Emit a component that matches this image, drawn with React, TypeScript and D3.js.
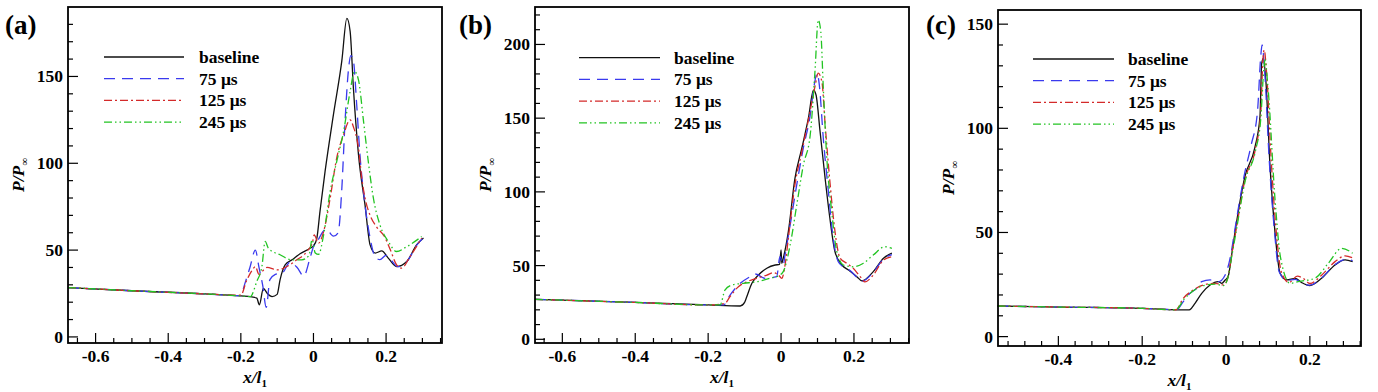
import * as React from "react";
import * as d3 from "d3";

type Pt = [number, number];

// ---- data (x/l1, P/Pinf) ----
const SERIES_NAMES = ["baseline", "75 μs", "125 μs", "245 μs"];
const PANEL_LABELS = ["(a)", "(b)", "(c)"];

const A_BASELINE: Pt[] = [[-0.676,28.4],[-0.5,26.6],[-0.3,24.8],[-0.2,23.6],[-0.17,23],[-0.156,22.3],[-0.149,18.5],[-0.138,28],[-0.127,25],[-0.114,23.2],[-0.1,24.5],[-0.092,32.9],[-0.078,41.5],[-0.059,44.4],[-0.037,47.9],[-0.009,51.1],[0,52.5],[0.009,56.5],[0.018,72.3],[0.032,95.3],[0.055,128],[0.078,158.8],[0.092,183.4],[0.101,176],[0.11,143.4],[0.124,105],[0.142,76],[0.156,53],[0.17,48.3],[0.188,49.5],[0.206,45.4],[0.229,40.5],[0.257,43.4],[0.284,53],[0.303,56.9]];
const A_75: Pt[] = [[-0.676,28.4],[-0.5,26.6],[-0.3,24.8],[-0.2,23.8],[-0.19,30],[-0.175,40],[-0.16,50],[-0.15,40],[-0.14,30],[-0.13,17],[-0.12,33],[-0.105,36],[-0.085,37],[-0.065,43],[-0.045,40],[-0.027,35],[-0.01,45],[0,52],[0.01,55],[0.035,62],[0.055,58],[0.068,60],[0.078,85],[0.087,124],[0.096,153],[0.103,162],[0.11,159],[0.119,134],[0.128,105],[0.142,76],[0.156,57],[0.17,46],[0.183,44.5],[0.2,47],[0.215,44],[0.232,40.5],[0.258,43.5],[0.285,53],[0.3,56.5]];
const A_125: Pt[] = [[-0.676,28.4],[-0.5,26.6],[-0.3,24.8],[-0.2,24],[-0.185,32],[-0.17,38],[-0.16,40.5],[-0.15,36],[-0.14,38],[-0.128,40],[-0.1,38.6],[-0.082,39.6],[-0.046,44.4],[-0.018,49.2],[-0.002,55],[0.002,58.8],[0.014,54],[0.028,60.7],[0.046,80],[0.064,103],[0.083,116.5],[0.101,125],[0.11,121],[0.124,108.8],[0.133,91.5],[0.142,80],[0.156,70],[0.175,63],[0.195,58],[0.212,50],[0.229,41.5],[0.243,39.6],[0.266,46.3],[0.298,56.9]];
const A_245: Pt[] = [[-0.676,28.4],[-0.5,26.6],[-0.3,24.8],[-0.2,23.6],[-0.174,23.2],[-0.156,32],[-0.142,40.5],[-0.133,55],[-0.124,51],[-0.092,47.3],[-0.059,44.4],[-0.032,44.4],[-0.012,47],[-0.004,56],[0.005,48.3],[0.014,47.5],[0.028,58.8],[0.046,83.8],[0.064,101],[0.083,118.4],[0.101,141.5],[0.113,153],[0.124,148],[0.138,124],[0.151,101],[0.165,80],[0.183,64.6],[0.206,55],[0.229,49.2],[0.257,52],[0.298,57.8]];

const B_BASELINE: Pt[] = [[-0.675,27.1],[-0.4,25],[-0.2,23.3],[-0.112,22.6],[-0.1,25],[-0.094,28.9],[-0.08,38],[-0.062,43.6],[-0.039,48.2],[-0.016,50.4],[-0.004,50.8],[0,60.6],[0.002,51.6],[0.006,55],[0.02,73],[0.038,109],[0.057,129.6],[0.075,150],[0.089,169],[0.096,165.7],[0.107,141],[0.121,109],[0.134,82],[0.148,59.4],[0.167,50.4],[0.185,47],[0.208,42.5],[0.222,39.6],[0.253,45.9],[0.281,55],[0.304,58.4]];
const B_75: Pt[] = [[-0.675,27.1],[-0.4,25],[-0.2,23.3],[-0.158,23.3],[-0.14,30],[-0.112,38],[-0.085,42.5],[-0.071,44.3],[-0.044,41.4],[-0.012,42.5],[-0.003,56],[0.006,50.4],[0.011,57.2],[0.025,77.5],[0.043,104.7],[0.061,129.6],[0.08,152],[0.091,172.5],[0.099,180.5],[0.105,172.5],[0.116,136],[0.13,100],[0.143,68.5],[0.157,52.6],[0.171,49.2],[0.19,46.5],[0.208,42],[0.222,39.4],[0.253,45.5],[0.281,54.5],[0.304,57.5]];
const B_125: Pt[] = [[-0.675,27.1],[-0.4,25],[-0.2,23.3],[-0.154,24.4],[-0.14,29],[-0.117,35.7],[-0.094,39],[-0.067,41.4],[-0.039,43.6],[-0.021,45.2],[-0.007,43.6],[0.002,41.4],[0.011,50.4],[0.02,68.5],[0.038,104.7],[0.057,127.3],[0.075,148.8],[0.093,171.4],[0.102,180.5],[0.112,174.8],[0.121,145.4],[0.134,107],[0.148,73],[0.162,55],[0.18,51.6],[0.198,48.2],[0.217,42.5],[0.23,39],[0.253,43.6],[0.281,53.8],[0.304,56]];
const B_245: Pt[] = [[-0.675,27.1],[-0.4,25],[-0.2,23.3],[-0.167,23.3],[-0.154,33.4],[-0.135,36.8],[-0.103,38],[-0.067,39],[-0.03,41.4],[-0.003,43.6],[0.006,45.9],[0.025,64],[0.043,91],[0.061,118],[0.08,138.6],[0.093,181.5],[0.102,216.6],[0.109,208.7],[0.116,170],[0.125,125],[0.139,86.6],[0.153,59.4],[0.171,50.4],[0.198,49.2],[0.226,51.6],[0.253,57.2],[0.285,62.8],[0.304,61.7]];

const C_BASELINE: Pt[] = [[-0.545,14.7],[-0.4,14.2],[-0.2,13.6],[-0.09,12.8],[-0.086,13],[-0.074,16],[-0.058,20.8],[-0.038,24.8],[-0.018,26.4],[-0.01,25.6],[-0.002,27.2],[0.005,28.8],[0.014,40],[0.021,49.6],[0.045,76.8],[0.069,91],[0.081,105.6],[0.085,131],[0.089,133.6],[0.095,123],[0.105,81.6],[0.117,49.6],[0.129,30.4],[0.145,27.2],[0.165,28],[0.18,26],[0.2,24.5],[0.228,28],[0.26,34.4],[0.284,36.8],[0.302,36]];
const C_75: Pt[] = [[-0.545,14.7],[-0.4,14.2],[-0.2,13.6],[-0.118,12.9],[-0.102,16.8],[-0.086,20.8],[-0.07,23.2],[-0.058,26.4],[-0.038,27.2],[-0.018,26.4],[-0.002,29.6],[0.012,40],[0.02,50],[0.044,78],[0.06,92],[0.075,108],[0.083,135],[0.086,140],[0.092,128],[0.103,85],[0.115,52],[0.127,31],[0.145,27],[0.165,27.5],[0.18,25.8],[0.2,24.7],[0.228,28.2],[0.26,34.5],[0.284,37],[0.302,36.5]];
const C_125: Pt[] = [[-0.545,14.7],[-0.4,14.2],[-0.2,13.6],[-0.12,12.9],[-0.102,18.4],[-0.078,22.4],[-0.054,24.8],[-0.026,25.6],[-0.006,24.8],[0.004,28],[0.014,40],[0.022,49],[0.046,76],[0.07,90],[0.083,108],[0.088,133],[0.091,137.6],[0.097,126],[0.108,84],[0.12,50],[0.132,31],[0.15,26],[0.17,29],[0.184,28],[0.2,25.5],[0.228,29.5],[0.26,36],[0.284,38.8],[0.302,37.8]];
const C_245: Pt[] = [[-0.545,14.7],[-0.4,14.2],[-0.2,13.6],[-0.12,12.9],[-0.1,18],[-0.078,22],[-0.054,24.5],[-0.026,25.2],[-0.006,24.5],[0.004,28],[0.014,39],[0.022,48],[0.046,75],[0.07,89],[0.083,105],[0.09,128],[0.093,132.8],[0.1,120],[0.117,65.6],[0.13,38],[0.153,25.6],[0.175,26.5],[0.212,28],[0.244,35.2],[0.276,42.4],[0.302,40]];

const A_X_TICKS = [-0.6, -0.4, -0.2, 0, 0.2];
const B_X_TICKS = [-0.6, -0.4, -0.2, 0, 0.2];
const C_X_TICKS = [-0.4, -0.2, 0, 0.2];
const A_Y_TICKS = [0, 50, 100, 150];
const B_Y_TICKS = [0, 50, 100, 150, 200];
const C_Y_TICKS = [0, 50, 100, 150];

// ---- layout / styles ----
const STYLES = [
  { color: "#111111", dash: "" },
  { color: "#3a3aee", dash: "11 7" },
  { color: "#d42a2a", dash: "8 3 2 3" },
  { color: "#22c422", dash: "8 3 1.5 3 1.5 3" },
];

const PANELS = [
  { left: 68, right: 442, top: 7, bottom: 343, xd: [-0.676, 0.354], yd: [-3.5, 190], xMinor: 0.05, yMax: 180,
    labelX: 5, yTitleX: 18, legX1: 104, legX2: 184, legText: 199, legY: 57,
    series: [A_BASELINE, A_75, A_125, A_245], xTicks: A_X_TICKS, yTicks: A_Y_TICKS },
  { left: 535, right: 909, top: 7, bottom: 343, xd: [-0.675, 0.351], yd: [-2.5, 225.4], xMinor: 0.05, yMax: 220,
    labelX: 459, yTitleX: 485, legX1: 579, legX2: 660, legText: 674, legY: 57.7,
    series: [B_BASELINE, B_75, B_125, B_245], xTicks: B_X_TICKS, yTicks: B_Y_TICKS },
  { left: 998, right: 1361, top: 10, bottom: 346, xd: [-0.544, 0.322], yd: [-4.5, 156.8], xMinor: 0.04, yMax: 150,
    labelX: 926, yTitleX: 948, legX1: 1033, legX2: 1114, legText: 1128, legY: 59,
    series: [C_BASELINE, C_75, C_125, C_245], xTicks: C_X_TICKS, yTicks: C_Y_TICKS },
];

const FONT = "Liberation Serif";
const txt: React.CSSProperties = { fontFamily: FONT, fontWeight: 700 };

function Panel({ p, label }: { p: (typeof PANELS)[number]; label: string }) {
  const x = d3.scaleLinear().domain(p.xd).range([p.left, p.right]);
  const y = d3.scaleLinear().domain(p.yd).range([p.bottom, p.top]);
  const line = d3
    .line<Pt>()
    .x((d) => x(d[0]))
    .y((d) => y(d[1]))
    .curve(d3.curveMonotoneX);

  const n0 = Math.ceil(p.xd[0] / p.xMinor - 1e-6);
  const n1 = Math.floor(p.xd[1] / p.xMinor + 1e-6);
  const xMinor = d3.range(n0, n1 + 1).map((i) => +(i * p.xMinor).toFixed(3));
  const yMinor = d3.range(0, p.yMax + 1, 10);
  const cx = (p.left + p.right) / 2;
  const cy = (p.top + p.bottom) / 2;

  return (
    <g>
      <defs>
        <clipPath id={`clip-${label}`}>
          <rect x={p.left} y={p.top} width={p.right - p.left} height={p.bottom - p.top} />
        </clipPath>
      </defs>
      {/* minor / major ticks, pointing inward */}
      {xMinor.map((t) => {
        const major = p.xTicks.some((m) => Math.abs(m - t) < 1e-6);
        return <line key={"xm" + t} x1={x(t)} x2={x(t)} y1={p.bottom} y2={p.bottom - (major ? 10 : 5)} stroke="#000" strokeWidth={1.2} />;
      })}
      {yMinor.map((t) => {
        const major = p.yTicks.includes(t);
        return <line key={"ym" + t} x1={p.left} x2={p.left + (major ? 10 : 5)} y1={y(t)} y2={y(t)} stroke="#000" strokeWidth={1.2} />;
      })}
      {p.xTicks.map((t) => (
        <text key={"xt" + t} x={x(t)} y={p.bottom + 19} fontSize={17.5} textAnchor="middle" style={txt}>
          {t === 0 ? "0" : t.toFixed(1)}
        </text>
      ))}
      {p.yTicks.map((t) => (
        <text key={"yt" + t} x={p.left - 5} y={y(t) + 6} fontSize={17.5} textAnchor="end" style={txt}>
          {t}
        </text>
      ))}

      <g clipPath={`url(#clip-${label})`}>
        {p.series.map((s, i) => (
          <path key={i} d={line(s) ?? ""} fill="none" stroke={STYLES[i].color} strokeWidth={1.3} strokeDasharray={STYLES[i].dash} />
        ))}
      </g>

      <rect x={p.left} y={p.top} width={p.right - p.left} height={p.bottom - p.top} fill="none" stroke="#000" strokeWidth={1.8} />

      {/* legend */}
      {SERIES_NAMES.map((name, i) => {
        const ly = p.legY + i * 21.7;
        return (
          <g key={name}>
            <line x1={p.legX1} x2={p.legX2} y1={ly} y2={ly} stroke={STYLES[i].color} strokeWidth={1.3} strokeDasharray={STYLES[i].dash} />
            <text x={p.legText} y={ly + 6} fontSize={17.5} style={txt}>{name}</text>
          </g>
        );
      })}

      <text x={p.labelX} y={34} fontSize={27} style={txt}>{label}</text>

      <text transform={`translate(${p.yTitleX + 6},${cy}) rotate(-90)`} fontSize={17.5} textAnchor="middle" style={{ ...txt, fontStyle: "italic" }}>
        P/P<tspan fontSize={11} dy={4}>∞</tspan>
      </text>
      <text x={cx} y={p.bottom + 40} fontSize={17.5} textAnchor="middle" style={{ ...txt, fontStyle: "italic" }}>
        x/l<tspan fontSize={11} dy={4} style={{ fontStyle: "normal" }}>1</tspan>
      </text>
    </g>
  );
}

export default function App() {
  return (
    <svg width={1378} height={392} style={{ position: "absolute", left: 0, top: 0, background: "#fff" }}>
      <rect width={1378} height={392} fill="#fff" />
      {PANELS.map((p, i) => (
        <Panel key={i} p={p} label={PANEL_LABELS[i]} />
      ))}
    </svg>
  );
}
